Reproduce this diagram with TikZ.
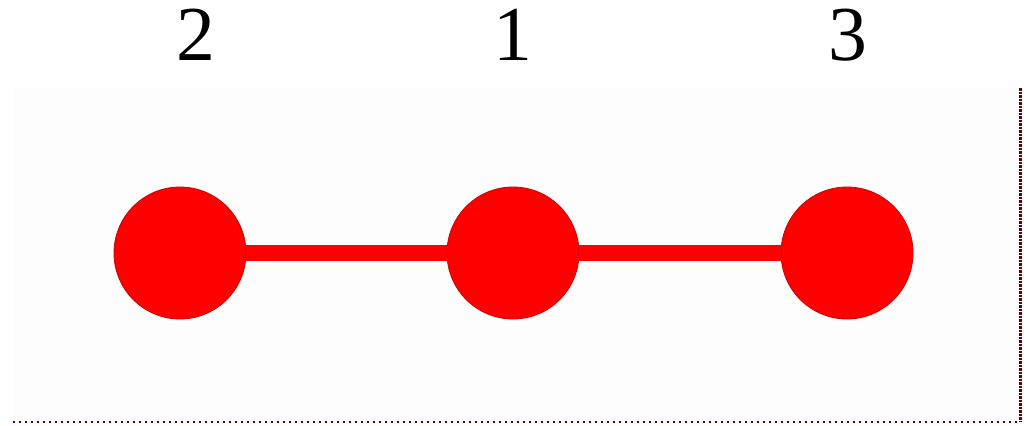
\documentclass[tikz,border=0pt]{standalone}
\usepackage{fontspec}
\setmainfont{Liberation Serif}
\begin{document}
\begin{tikzpicture}[x=1bp,y=-1bp,
  dot/.style={circle,fill=red,draw=red!80!black,line width=0.8bp,minimum size=132bp,inner sep=0pt},
  lbl/.style={font=\fontsize{78}{80}\selectfont,anchor=base,inner sep=0pt},
  edge/.style={draw=red,line width=16bp},
  rim/.style={draw={rgb,255:red,96;green,0;blue,0}}]
\useasboundingbox (0,0) rectangle (1028,425);
\fill[fill={rgb,255:red,254;green,253;blue,253}] (13,88) rectangle (1020,422);
\draw[rim,line width=3bp,dash pattern=on 2.5bp off 1bp] (1020,88) -- (1020,422);
\draw[rim,line width=2bp,dash pattern=on 2bp off 4bp] (13,422) -- (1020,422);
\node[dot] (n2) at (180,253) {};
\node[dot] (n1) at (513,253) {};
\node[dot] (n3) at (847,253) {};
\path[edge] (n2.east) -- (n1.west);
\path[edge] (n1.east) -- (n3.west);
\node[lbl] (l2) at (196,60) {2};
\node[lbl] (l1) at (513,60) {1};
\node[lbl] (l3) at (848,60) {3};
\end{tikzpicture}
\end{document}
